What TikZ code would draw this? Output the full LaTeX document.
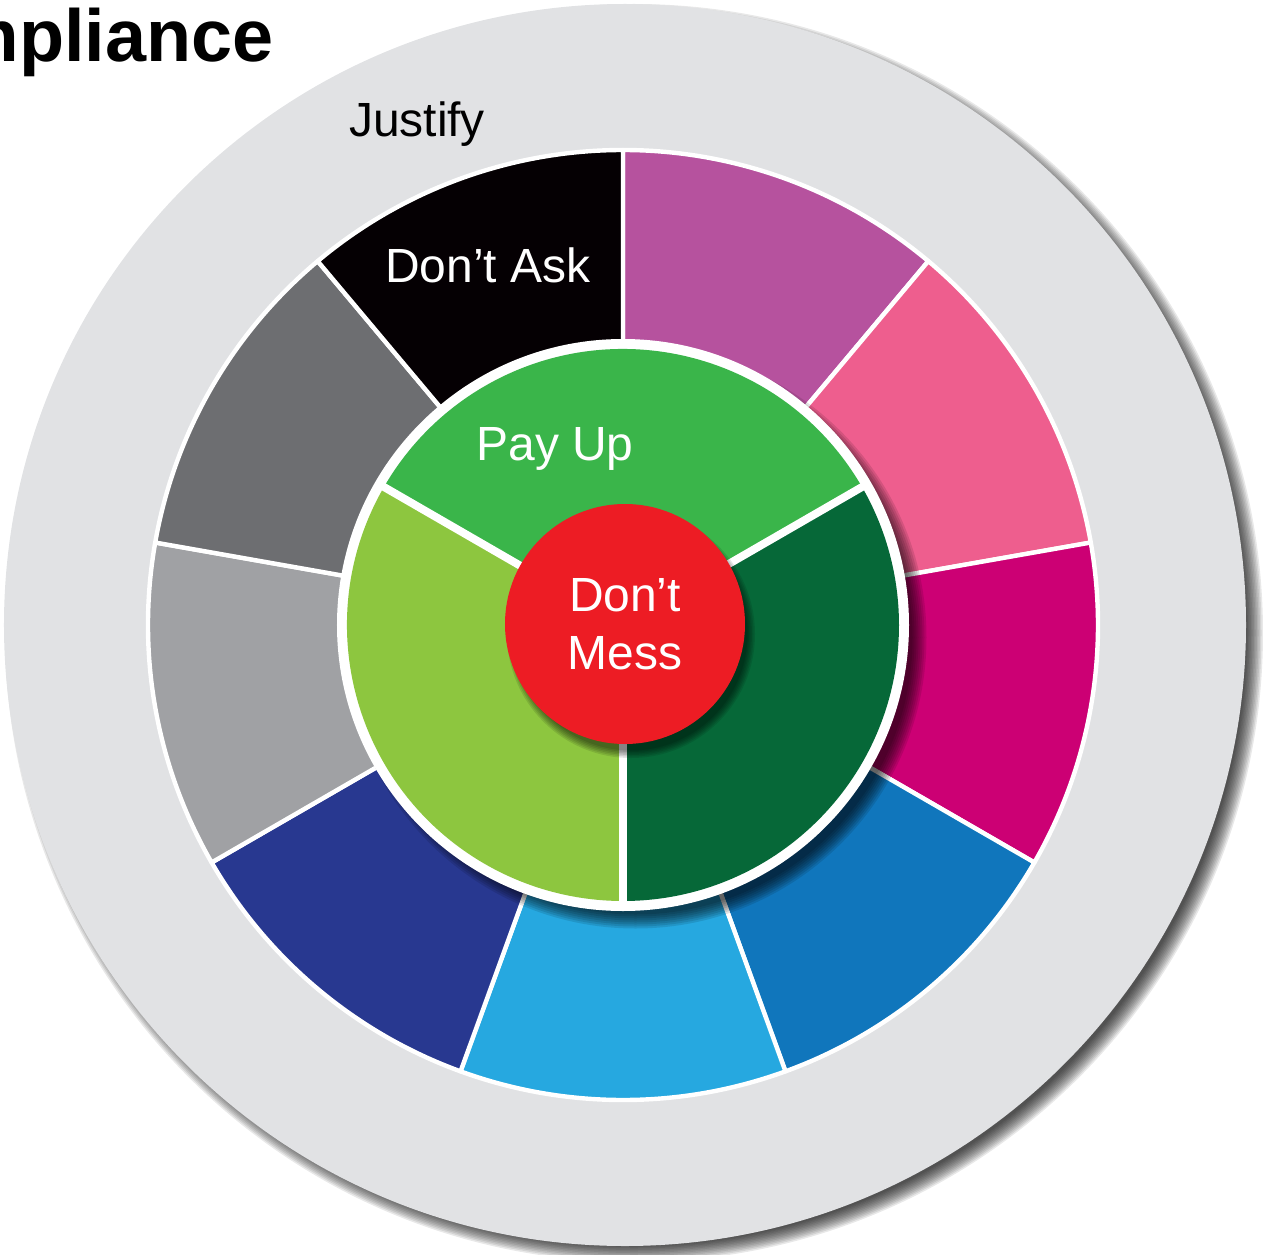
\documentclass[tikz,border=0pt]{standalone}
\usepackage{fontspec}
\setmainfont{Liberation Sans}
\usetikzlibrary{positioning,calc}

\definecolor{discgray}{RGB}{225,226,228}
\definecolor{segpurple}{RGB}{182,82,158}
\definecolor{segpink}{RGB}{238,94,142}
\definecolor{segmagenta}{RGB}{204,0,116}
\definecolor{segblue}{RGB}{16,118,188}
\definecolor{segsky}{RGB}{38,168,224}
\definecolor{segnavy}{RGB}{40,56,144}
\definecolor{seglightgray}{RGB}{160,161,164}
\definecolor{segdarkgray}{RGB}{109,110,113}
\definecolor{segblack}{RGB}{5,0,3}
\definecolor{paygreen}{RGB}{58,181,74}
\definecolor{lightgreen}{RGB}{141,198,63}
\definecolor{darkgreen}{RGB}{6,104,56}
\definecolor{corered}{RGB}{237,28,36}

\begin{document}
\begin{tikzpicture}

  \tikzstyle{every node}=[font=\fontsize{27.3}{33}\selectfont, inner sep=0pt]

  \tikzset{core/.style={circle, fill=corered, minimum size=4.8cm,
      text=white, align=center},
    segline/.style={draw=white, line width=2.5pt, line join=round}}

  \useasboundingbox (-12.46,-12.58) rectangle (12.80,12.50);

  % Centre of the target
  \coordinate (O) at (0,0);

  % Soft shadow under the grey disc
  \foreach \k in {1,...,12}
    \fill[black, opacity=0.09] ($(O)+(0.22,-0.16)$) circle ({12.22+0.03*\k});

  % Grey disc
  \fill[discgray] ($(O)+(0.04,0)$) circle (12.42);

  % Outer ring: nine segments of 40 degrees
  \foreach \a/\col in {50/segpurple, 10/segpink, -30/segmagenta,
      -70/segblue, -110/segsky, -150/segnavy, 170/seglightgray,
      130/segdarkgray, 90/segblack}
    \filldraw[fill=\col, segline] (O) -- (\a:9.5)
      arc[start angle=\a, end angle=\a+40, radius=9.5] -- cycle;

  % Shadow of the green ring
  \foreach \k in {1,...,8}
    \fill[black, opacity=0.11] ($(O)+(0.25,-0.25)$) circle ({5.5+0.04*\k});

  % White rim and green ring
  \fill[white] (O) circle (5.72);
  \foreach \a/\col in {30/paygreen, 150/lightgreen, 270/darkgreen}
    \fill[\col] (O) -- (\a:5.52)
      arc[start angle=\a, end angle=\a+120, radius=5.52] -- cycle;
  \foreach \a in {30,150,270}
    \draw[white, line width=4.5pt] (O) -- (\a:5.6);

  % Shadow of the red core
  \foreach \k in {1,...,6}
    \fill[black, opacity=0.1] ($(O)+(0.16,-0.18)$) circle ({2.3+0.03*\k});

  % Red core
  \node[core] (mess) at ($(O)+(0.04,0.02)$) {Don’t\\Mess};

  % Labels
  \node[anchor=base] (justify) at (-4.12,9.76) {Justify};
  \node[anchor=base, text=white] (ask) at (-2.70,6.84) {Don’t Ask};
  \node[anchor=base, text=white] (payup) at (-1.36,3.30) {Pay Up};

  % Title, cut by the left edge
  \node[anchor=base east, font=\fontsize{42}{50}\selectfont\bfseries]
    (title) at (-6.98,11.26) {Compliance};

\end{tikzpicture}
\end{document}
